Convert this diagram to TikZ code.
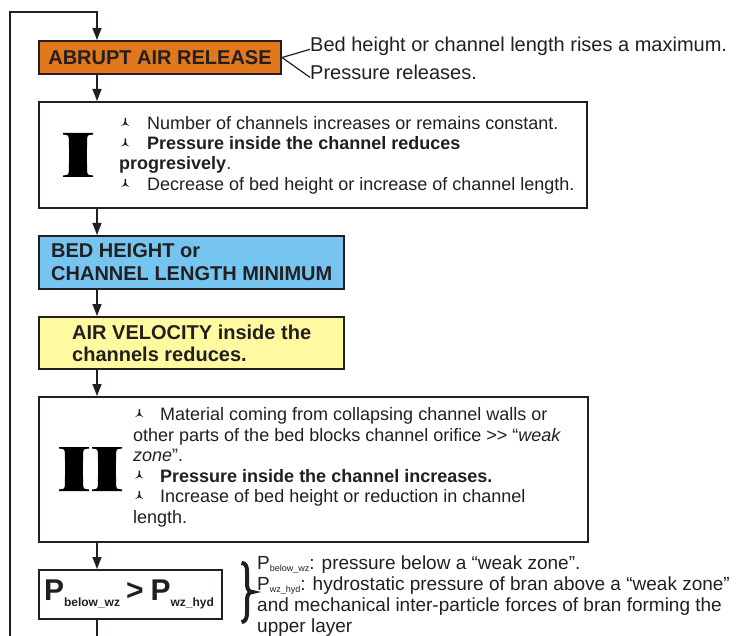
\documentclass[tikz,border=0pt]{standalone}
\usepackage{fontspec}
\setmainfont{Liberation Sans}
\usetikzlibrary{arrows.meta}
\definecolor{ink}{RGB}{35,31,32}
\definecolor{orangefill}{RGB}{226,120,28}
\definecolor{bluefill}{RGB}{118,197,240}
\definecolor{yellowfill}{RGB}{255,249,160}
\tikzset{
  boxframe/.style={draw=ink, line width=2pt, inner sep=0pt, rectangle},
  arr/.style={draw=ink, line width=1.5pt, -{Triangle[length=12pt,width=9pt]}},
  plainline/.style={draw=ink, line width=1.5pt},
  thinline/.style={draw=ink, line width=1.2pt},
  bodytext/.style={anchor=base west, inner sep=0pt, text=ink, font=\fontsize{18}{20}\selectfont},
  headtext/.style={anchor=base west, inner sep=0pt, text=ink, font=\fontsize{20}{22}\selectfont\bfseries},
  notetext/.style={anchor=base west, inner sep=0pt, text=ink, font=\fontsize{20}{22}\selectfont},
  sidetext/.style={anchor=base west, inner sep=0pt, text=ink, font=\fontsize{19}{21}\selectfont},
  bulletpic/.pic={\fill[ink] (3.5,-11.5) -- (5.1,-11.5) -- (5.1,-7.8) .. controls (5.7,-5.6) .. (8.6,-3.4) -- (4.3,-5.1) -- (0,-3.4) .. controls (2.9,-5.6) .. (3.5,-7.8) -- cycle;},
  romanI/.pic={\fill[black] (0,0) -- (30,0) -- (30,1.6) .. controls (26,1.8) and (24.3,2.2) .. (24.3,3.8)
     .. controls (23.8,15) and (23.8,29) .. (24.3,40.2)
     .. controls (24.3,41.8) and (26,42.2) .. (30,42.4) -- (30,44) -- (0,44) -- (0,42.4)
     .. controls (4,42.2) and (5.7,41.8) .. (5.7,40.2) .. controls (6.2,29) and (6.2,15) .. (5.7,3.8)
     .. controls (5.7,2.2) and (4,1.8) .. (0,1.6) -- cycle;}
}
\newcommand{\sbx}[1]{\raisebox{-2.5pt}{\fontsize{9}{9}\selectfont #1}}
\newcommand{\sbp}[1]{\raisebox{-6pt}{\fontsize{12}{12}\selectfont #1}}
\begin{document}
\begin{tikzpicture}[x=1pt,y=-1pt]
\useasboundingbox (0,0) rectangle (736,636);
\coordinate (ax) at (97,0);
\coordinate (lt) at (10,12);
\coordinate (lb) at (10,636);

% boxes
\node[boxframe, fill=orangefill, minimum width=242pt, minimum height=33pt,
      font=\fontsize{20}{22}\selectfont\bfseries, text=ink] (rel) at (160,57.5) {ABRUPT AIR RELEASE};
\node[boxframe, fill=white, minimum width=548pt, minimum height=106pt] (b1) at (313,155) {};
\node[boxframe, fill=bluefill, minimum width=305pt, minimum height=53pt] (blue) at (191.5,262.5) {};
\node[boxframe, fill=yellowfill, minimum width=305pt, minimum height=52pt] (yel) at (191.5,343) {};
\node[boxframe, fill=white, minimum width=549pt, minimum height=145pt] (b2) at (313.5,469.5) {};
\node[boxframe, fill=white, minimum width=183pt, minimum height=49pt] (pb) at (130.5,594.5) {};

% connectors
\draw[arr] (lb) -- (lt) -| (ax |- rel.north);
\draw[arr] (rel.south -| ax) -- (b1.north -| ax);
\draw[arr] (b1.south -| ax) -- (blue.north -| ax);
\draw[arr] (blue.south -| ax) -- (yel.north -| ax);
\draw[arr] (yel.south -| ax) -- (b2.north -| ax);
\draw[arr] (b2.south -| ax) -- (pb.north -| ax);
\draw[plainline] (pb.south -| ax) -- (ax |- lb);

% side notes of the release box
\node[notetext] (n1) at (310,52) {Bed height or channel length rises a maximum.};
\node[notetext] (n2) at (310,80) {Pressure releases.};
\draw[thinline] (rel.east) -- (n1.mid west);
\draw[thinline] (rel.east) -- (n2.mid west);

% box I
\pic at (63,133) {romanI};
\pic at (121,129.5) {bulletpic};
\node[bodytext] (t1a) at (147,129.5) {Number of channels increases or remains constant.};
\pic at (121,150) {bulletpic};
\node[bodytext] (t1b) at (147,150) {\textbf{Pressure inside the channel reduces}};
\node[bodytext] (t1c) at (119,170) {\textbf{progresively}.};
\pic at (121,190.5) {bulletpic};
\node[bodytext] (t1d) at (147,190.5) {Decrease of bed height or increase of channel length.};

% blue and yellow
\node[headtext] (bt1) at (51,258) {BED HEIGHT or};
\node[headtext] (bt2) at (51,281) {CHANNEL LENGTH MINIMUM};
\node[headtext] (yt1) at (72,339) {AIR VELOCITY inside the};
\node[headtext] (yt2) at (72,361) {channels reduces.};

% box II
\pic at (59,447) {romanI};
\pic at (92,447) {romanI};
\pic at (135,420.5) {bulletpic};
\node[bodytext] (t2a) at (160,420.5) {Material coming from collapsing channel walls or};
\node[bodytext] (t2b) at (133,441) {other parts of the bed blocks channel orifice >\kern0pt> “\textit{weak}};
\node[bodytext] (t2c) at (133,461.5) {\textit{zone}”.};
\pic at (135,482) {bulletpic};
\node[bodytext] (t2d) at (160,482) {\textbf{Pressure inside the channel increases.}};
\pic at (135,502.5) {bulletpic};
\node[bodytext] (t2e) at (160,502.5) {Increase of bed height or reduction in channel};
\node[bodytext] (t2f) at (133,523) {length.};

% P box
\node[anchor=base, inner sep=0pt, text=ink, font=\fontsize{30}{30}\selectfont\bfseries] (pt) at (129,600)
  {P\sbp{below\_wz}\hspace{6pt}>\hspace{7pt}P\sbp{wz\_hyd}};

% brace and definitions
\draw[draw=ink, line width=4pt] (241.5,563) .. controls (245.5,563) and (247,566) .. (247,571) -- (247,584)
  .. controls (247,589) and (249,592) .. (252.5,592) .. controls (249,592) and (247,595) .. (247,600)
  -- (247,613) .. controls (247,618) and (245.5,622) .. (241.5,622);
\node[sidetext] (d1) at (257,569) {P\sbx{below\_wz}: pressure below a “weak zone”.};
\node[sidetext] (d2) at (257,590) {P\sbx{wz\_hyd}: hydrostatic pressure of bran above a “weak zone”};
\node[sidetext] (d3) at (257,611) {and mechanical inter-particle forces of bran forming the};
\node[sidetext] (d4) at (257,632) {upper layer};
\end{tikzpicture}
\end{document}
